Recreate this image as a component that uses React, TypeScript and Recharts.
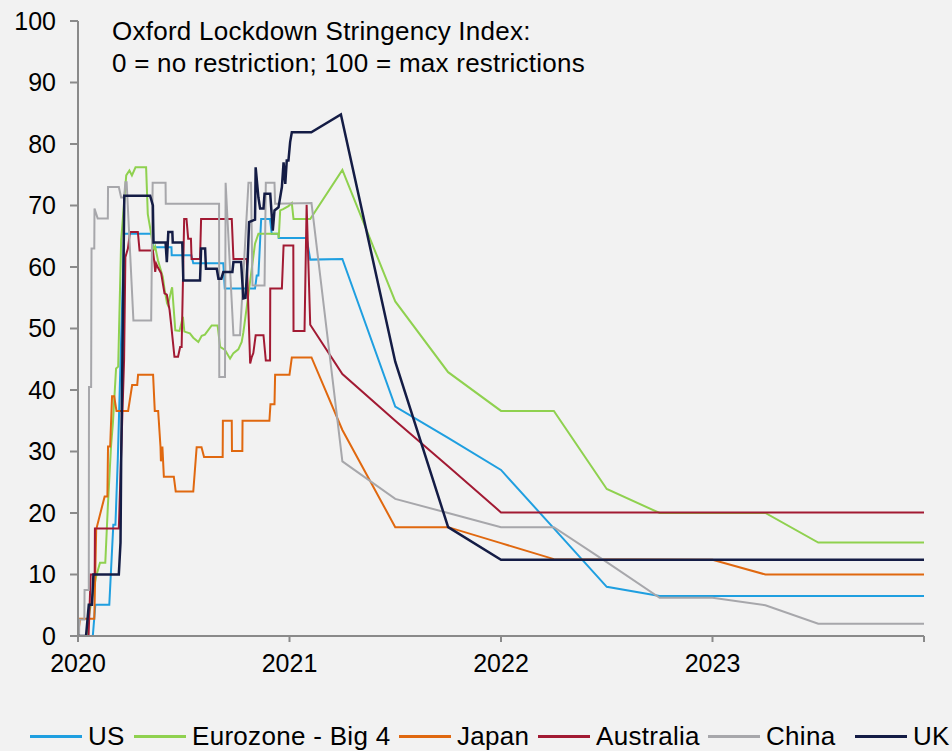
import { LineChart, Line, XAxis, YAxis } from "recharts"

// [decimal year, index value]
const usSeries = [
  [2020, 0], [2020.07, 0], [2020.082, 5.1], [2020.148, 5.1], [2020.167, 18.1], [2020.177, 18.1],
  [2020.188, 28.6], [2020.218, 65.4], [2020.355, 65.4], [2020.356, 63.2], [2020.442, 63.2],
  [2020.443, 61.9], [2020.536, 61.9], [2020.545, 60.6], [2020.687, 60.6], [2020.694, 56.5],
  [2020.837, 56.5], [2020.845, 58.6], [2020.853, 58.6], [2020.866, 67.8], [2020.908, 67.8],
  [2020.916, 65.4], [2020.948, 65.4], [2020.949, 64.7], [2021.081, 64.7], [2021.098, 61.2],
  [2021.25, 61.3], [2021.5, 37.3], [2021.75, 32.2], [2022, 27], [2022.25, 17.5], [2022.5, 8],
  [2022.75, 6.5], [2024, 6.5],
]

const eurozoneSeries = [
  [2020, 0], [2020.04, 0], [2020.055, 4], [2020.085, 9.6], [2020.104, 11.9], [2020.129, 11.9],
  [2020.141, 21], [2020.156, 30.8], [2020.165, 34.6], [2020.18, 43.5], [2020.19, 43.8],
  [2020.204, 64.3], [2020.228, 74.9], [2020.243, 75.7], [2020.255, 74.9], [2020.272, 76.2],
  [2020.322, 76.2], [2020.33, 68.6], [2020.346, 65.4], [2020.357, 62.7], [2020.365, 63.3],
  [2020.378, 61.1], [2020.401, 58.4], [2020.41, 56.2], [2020.421, 54.1], [2020.425, 53.8],
  [2020.441, 56.2], [2020.445, 56.7], [2020.46, 49.7], [2020.48, 49.6], [2020.496, 51.9],
  [2020.503, 49.5], [2020.529, 49.2], [2020.545, 48.5], [2020.569, 47.8], [2020.585, 48.8],
  [2020.6, 49], [2020.632, 50.5], [2020.66, 50.5], [2020.672, 47], [2020.695, 46.5],
  [2020.719, 45.1], [2020.735, 46], [2020.758, 46.6], [2020.774, 47.8], [2020.782, 49.4],
  [2020.798, 53.5], [2020.837, 63.8], [2020.853, 65.4], [2020.948, 65.4], [2020.949, 64.7],
  [2020.956, 69.2], [2020.97, 69.4], [2020.995, 69.9], [2021.011, 70.4], [2021.019, 67.8],
  [2021.098, 67.8], [2021.25, 75.8], [2021.5, 54.4], [2021.75, 42.9], [2022, 36.6],
  [2022.25, 36.6], [2022.5, 23.9], [2022.75, 20], [2023.25, 20], [2023.5, 15.2], [2024, 15.2],
]

const japanSeries = [
  [2020, 0], [2020.009, 2.8], [2020.077, 2.8], [2020.086, 17.3], [2020.126, 22.7], [2020.139, 22.7],
  [2020.142, 30.8], [2020.152, 30.8], [2020.161, 39], [2020.171, 39], [2020.182, 36.6],
  [2020.237, 36.6], [2020.256, 40.8], [2020.28, 40.8], [2020.284, 42.5], [2020.355, 42.5],
  [2020.363, 36.6], [2020.379, 36.6], [2020.39, 30.8], [2020.392, 28.4], [2020.399, 30.8],
  [2020.406, 25.9], [2020.453, 25.9], [2020.462, 23.5], [2020.545, 23.5], [2020.561, 30.7],
  [2020.584, 30.7], [2020.596, 29.1], [2020.684, 29.1], [2020.685, 35], [2020.727, 35],
  [2020.728, 30.1], [2020.777, 30.1], [2020.778, 35], [2020.905, 35], [2020.91, 37.7],
  [2020.929, 37.7], [2020.932, 42.5], [2021, 42.5], [2021.011, 45.3], [2021.104, 45.3],
  [2021.25, 33.5], [2021.5, 17.7], [2021.75, 17.7], [2022, 15.1], [2022.25, 12.5], [2023, 12.4],
  [2023.25, 10], [2024, 10],
]

const australiaSeries = [
  [2020, 0], [2020.05, 0], [2020.06, 10], [2020.079, 10], [2020.08, 17.5], [2020.193, 17.5],
  [2020.218, 45], [2020.224, 61.6], [2020.236, 63], [2020.246, 65.7], [2020.283, 65.7],
  [2020.291, 62.7], [2020.354, 62.7], [2020.362, 60.5], [2020.365, 59.2], [2020.37, 60.5],
  [2020.378, 59.9], [2020.393, 59], [2020.409, 55.7], [2020.42, 55.5], [2020.433, 53],
  [2020.44, 50.8], [2020.456, 45.4], [2020.473, 45.4], [2020.483, 47], [2020.49, 47],
  [2020.502, 67.8], [2020.513, 67.8], [2020.521, 64.6], [2020.534, 64.6], [2020.537, 61.3],
  [2020.577, 61.3], [2020.582, 67.8], [2020.727, 67.8], [2020.735, 61.3], [2020.798, 61.3],
  [2020.814, 44.3], [2020.821, 45.3], [2020.829, 46], [2020.84, 48.9], [2020.877, 48.9],
  [2020.888, 44.8], [2020.908, 44.8], [2020.909, 56.5], [2020.964, 56.5], [2020.972, 63.5],
  [2021.018, 63.5], [2021.019, 49.6], [2021.071, 49.6], [2021.081, 70.1], [2021.098, 50.6],
  [2021.25, 42.6], [2021.5, 35], [2021.75, 27.6], [2022, 20.1], [2024, 20.1],
]

const chinaSeries = [
  [2020, 0], [2020.005, 0], [2020.006, 2.7], [2020.03, 2.7], [2020.031, 7.5], [2020.051, 7.5],
  [2020.052, 40.5], [2020.062, 40.5], [2020.064, 63], [2020.077, 63], [2020.078, 69.5],
  [2020.093, 67.9], [2020.141, 67.9], [2020.142, 73], [2020.193, 73], [2020.204, 71.3],
  [2020.218, 71.3], [2020.224, 73.8], [2020.23, 73.8], [2020.262, 51.3], [2020.346, 51.3],
  [2020.353, 73.7], [2020.414, 73.7], [2020.415, 70.3], [2020.667, 70.3], [2020.668, 42.1],
  [2020.695, 42.1], [2020.698, 73.7], [2020.735, 48.9], [2020.766, 48.9], [2020.806, 73.7],
  [2020.818, 73.7], [2020.825, 57], [2020.882, 57], [2020.888, 73.7], [2020.929, 73.7],
  [2020.932, 70.3], [2021.104, 70.4], [2021.25, 28.4], [2021.5, 22.3], [2021.75, 20],
  [2022, 17.7], [2022.25, 17.7], [2022.5, 12], [2022.75, 6.2], [2023, 6.2], [2023.25, 5],
  [2023.5, 2], [2024, 2],
]

const ukSeries = [
  [2020, 0], [2020.038, 0], [2020.051, 5.1], [2020.066, 5.1], [2020.073, 10], [2020.193, 10],
  [2020.201, 15.2], [2020.204, 28.1], [2020.219, 71.6], [2020.341, 71.6], [2020.354, 70],
  [2020.357, 64], [2020.414, 64], [2020.42, 60.8], [2020.427, 65.7], [2020.446, 65.7],
  [2020.448, 64], [2020.493, 64], [2020.498, 57.8], [2020.577, 57.8], [2020.582, 63],
  [2020.601, 63], [2020.605, 59.7], [2020.656, 59.7], [2020.664, 58.1], [2020.678, 58.1],
  [2020.687, 59.2], [2020.73, 59.2], [2020.735, 60.8], [2020.771, 60.8], [2020.782, 54.9],
  [2020.792, 55], [2020.802, 61], [2020.809, 67.3], [2020.837, 67.7], [2020.84, 76.2],
  [2020.853, 71.3], [2020.861, 69.5], [2020.877, 69.5], [2020.882, 71.9], [2020.909, 71.9],
  [2020.921, 65.9], [2020.929, 69.2], [2020.948, 69.7], [2020.964, 73], [2020.972, 77],
  [2020.98, 73.5], [2020.987, 77.3], [2020.995, 77.3], [2021.003, 80.3], [2021.011, 81.9],
  [2021.103, 81.9], [2021.243, 84.8], [2021.5, 44.6], [2021.75, 17.7], [2022, 12.4], [2024, 12.4],
]

const yearTicks = [2020, 2021, 2022, 2023, 2024]
const yearLabels = ["2020", "2021", "2022", "2023", ""]
const valueTicks = [0, 10, 20, 30, 40, 50, 60, 70, 80, 90, 100]

const SERIES = [
  { name: "US", points: usSeries, color: "#1f9fe0", width: 2, legendX: 30 },
  { name: "Eurozone - Big 4", points: eurozoneSeries, color: "#8fd14f", width: 2, legendX: 134 },
  { name: "Japan", points: japanSeries, color: "#e0680f", width: 2, legendX: 399 },
  { name: "Australia", points: australiaSeries, color: "#a21a33", width: 2, legendX: 538 },
  { name: "China", points: chinaSeries, color: "#a7a7ab", width: 2, legendX: 708 },
  { name: "UK", points: ukSeries, color: "#141c45", width: 2.5, legendX: 855 },
]

const FONT = "'Liberation Sans', Arial, sans-serif"
const AXIS = "#8a8a8a"

export default function App() {
  return (
    <div style={{ position: "absolute", left: 0, top: 0, width: 952, height: 751, background: "#f2f2f2", fontFamily: FONT, overflow: "hidden" }}>
      <LineChart width={952} height={751} margin={{ top: 21, right: 28, left: 0, bottom: 85 }}>
        <XAxis
          dataKey="x"
          type="number"
          domain={[2020, 2024]}
          ticks={yearTicks}
          tickFormatter={(v: number) => yearLabels[yearTicks.indexOf(v)] ?? ""}
          height={30}
          tickSize={6}
          tickMargin={12}
          stroke={AXIS}
          strokeWidth={2}
          tick={{ fill: "#000", fontSize: 25, fontFamily: FONT }}
          allowDataOverflow
        />
        <YAxis
          type="number"
          domain={[0, 100]}
          ticks={valueTicks}
          width={78}
          tickSize={8}
          tickMargin={14}
          stroke={AXIS}
          strokeWidth={2}
          tick={{ fill: "#000", fontSize: 25, fontFamily: FONT }}
          allowDataOverflow
        />
        {SERIES.map((s) => (
          <Line
            key={s.name}
            data={s.points.map(([x, v]) => ({ x, v }))}
            dataKey="v"
            name={s.name}
            type="linear"
            stroke={s.color}
            strokeWidth={s.width}
            dot={false}
            activeDot={false}
            isAnimationActive={false}
          />
        ))}
      </LineChart>
      <div style={{ position: "absolute", left: 112, top: 15, fontSize: 26, lineHeight: "32px", letterSpacing: 0.25, color: "#000", whiteSpace: "nowrap" }}>
        Oxford Lockdown Stringency Index:
        <br />
        0 = no restriction; 100 = max restrictions
      </div>
      {SERIES.map((s) => (
        <div key={s.name} style={{ position: "absolute", left: s.legendX, top: 723, height: 26, display: "flex", alignItems: "center", fontSize: 26, lineHeight: "26px", letterSpacing: 0.3, whiteSpace: "nowrap" }}>
          <span style={{ display: "inline-block", width: 52, height: 3, background: s.color, marginRight: 6 }} />
          <span>{s.name}</span>
        </div>
      ))}
    </div>
  )
}
